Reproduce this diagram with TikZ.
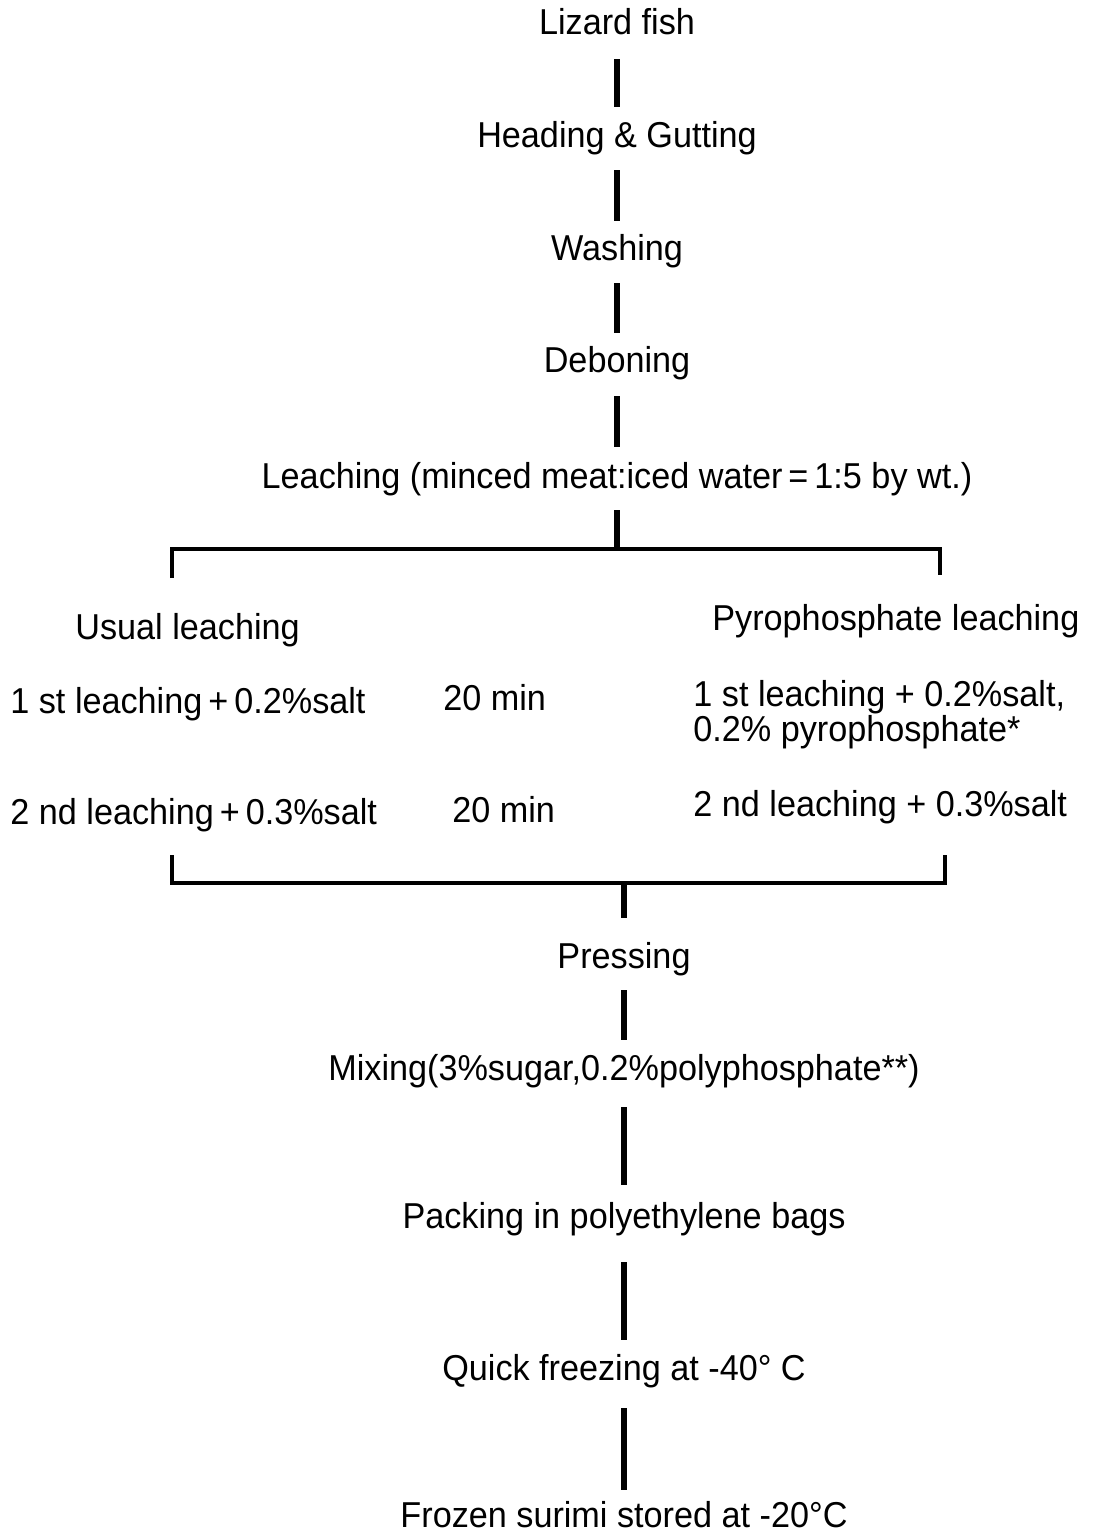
\documentclass[tikz,border=0pt]{standalone}
\usepackage{fontspec}
\setmainfont[FakeStretch=0.95]{Liberation Sans}
\usepackage{tikz}
\usetikzlibrary{positioning}

\begin{document}
\begin{tikzpicture}
  [
    x=0.5pt, y=-0.5pt,
    stage/.style={
       font=\fontsize{18pt}{21pt}\selectfont,
       text height=14pt,
       text depth=4pt,
       inner sep=0pt,
       anchor=base
    },
    lbl/.style={
       stage,
       anchor=base west
    },
    ln/.style={
       draw=black,
       line width=2.8pt
    },
    brk/.style={
       draw=black,
       line width=2.2pt
    }
  ]
  \useasboundingbox (0,0) rectangle (1095,1534);

  \node (liz)   at (617,  35) [stage] {Lizard fish};
  \node (head)  at (617, 148) [stage] {Heading \& Gutting};
  \node (wash)  at (617, 261) [stage] {Washing};
  \node (debon) at (617, 373) [stage] {Deboning};
  \node (leach) at (617, 488) [stage] {Leaching (minced meat:iced water\,=\,1:5 by wt.)};

  \node (usual) at ( 75, 639) [lbl]   {Usual leaching};
  \node (pyro)  at (712, 630) [lbl]   {Pyrophosphate leaching};
  \node (ustA)  at ( 10, 713) [lbl]   {1 st leaching\,+\,0.2\%salt};
  \node (minA)  at (443, 710) [lbl]   {20 min};
  \node (pyA)   at (693, 706) [lbl]   {1 st leaching + 0.2\%salt,};
  \node (pyB)   at (693, 741) [lbl]   {0.2\% pyrophosphate*};
  \node (ustB)  at ( 10, 824) [lbl]   {2 nd leaching\,+\,0.3\%salt};
  \node (minB)  at (452, 822) [lbl]   {20 min};
  \node (pyC)   at (693, 816) [lbl]   {2 nd leaching + 0.3\%salt};

  \node (press) at (624, 968) [stage] {Pressing};
  \node (mix)   at (624,1080) [stage] {Mixing(3\%sugar,0.2\%polyphosphate**)};
  \node (pack)  at (624,1228) [stage] {Packing in polyethylene bags};
  \node (quick) at (624,1380) [stage] {Quick freezing at -40° C};
  \node (froz)  at (624,1527) [stage] {Frozen surimi stored at -20°C};

  % brackets
  \coordinate (brTL)  at (172, 578);
  \coordinate (brtop) at (617, 549);
  \coordinate (brTR)  at (940, 575);
  \coordinate (brBL)  at (172, 855);
  \coordinate (brbot) at (624, 883);
  \coordinate (brBR)  at (945, 855);

  \foreach \a/\b/\s/\e in {liz/head/8pt/6.5pt, head/wash/7pt/6pt, wash/debon/7pt/6pt,
                           debon/leach/7.5pt/6.5pt, press/mix/7pt/6pt, mix/pack/9.5pt/7.5pt,
                           pack/quick/13pt/6pt, quick/froz/10pt/4.5pt}
    \draw [ln, shorten <=\s, shorten >=\e] (\a) -- (\b);

  \draw [ln, shorten <=7pt] (leach) -- (brtop);
  \draw [brk] (brTL) |- (brtop) -| (brTR);
  \draw [brk] (brBL) |- (brbot) -| (brBR);
  \draw [ln, shorten >=11pt] (brbot) -- (press);
\end{tikzpicture}
\end{document}
